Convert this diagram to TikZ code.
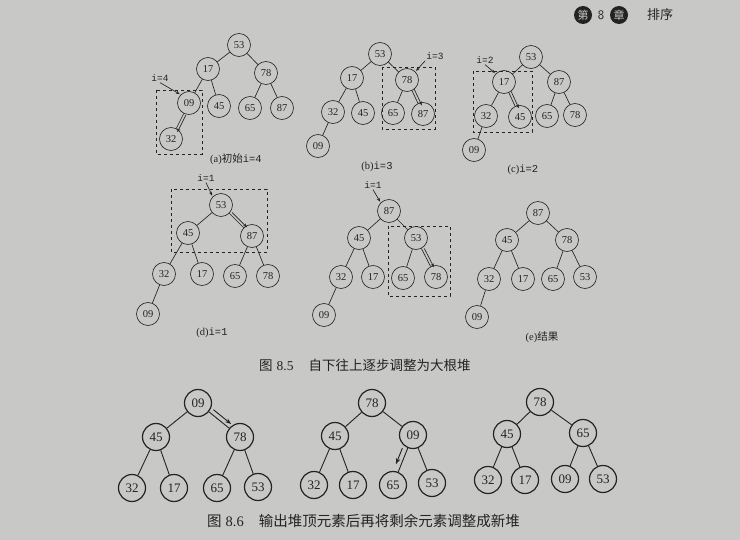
\documentclass[tikz,border=0pt]{standalone}
\usepackage{fontspec}
\setmainfont{Liberation Serif}
\newfontfamily\cjk{Noto Sans CJK SC}
\newfontfamily\mono{Liberation Mono}
\usetikzlibrary{arrows.meta,calc}
\definecolor{pagegray}{RGB}{200,200,198}
\definecolor{ink}{RGB}{35,35,35}
\tikzset{
  sn/.style={circle,draw=ink,line width=0.65pt,minimum size=23pt,inner sep=0pt,font=\fontsize{10.5}{11}\selectfont,text=ink},
  bn/.style={circle,draw=ink,line width=1.2pt,minimum size=27pt,inner sep=0pt,font=\fontsize{13}{14}\selectfont,text=ink},
  se/.style={draw=ink,line width=0.65pt},
  be/.style={draw=ink,line width=0.9pt},
  dbox/.style={draw=ink,dashed,line width=0.6pt},
  lab/.style={font=\mono\fontsize{9.5}{10}\selectfont,text=ink,inner sep=1pt},
  subcap/.style={font=\fontsize{10.5}{11}\selectfont,text=ink},
  tip/.style={-{Stealth[length=4pt,width=3pt]},draw=ink,line width=0.65pt},
  btip/.style={-{Stealth[length=6pt,width=4.5pt]},draw=ink,line width=0.9pt},
  fcap/.style={anchor=west,text=ink,inner sep=0pt},
  hcirc/.style={circle,fill=ink,text=pagegray,inner sep=0pt,minimum size=18pt,font=\cjk\fontsize{11}{11}\selectfont},
}
\newcommand{\dbl}[3]{\draw[tip] ($(#1)!0.3!(#2)!2.6pt!#3:(#2)$) -- ($(#1)!0.78!(#2)!2.6pt!#3:(#2)$);}
\begin{document}
\begin{tikzpicture}[x=1pt,y=-1pt]
\fill[pagegray] (0,0) rectangle (740,540);
\useasboundingbox (0,0) rectangle (740,540);

% header
\node[hcirc] (h1) at (583,15) {第};
\node[text=ink,font=\sffamily\fontsize{13}{13}\selectfont] (h2) at (601,15) {8};
\node[hcirc] (h3) at (619,15) {章};
\node[text=ink,font=\cjk\fontsize{13}{13}\selectfont] (h4) at (660,15) {排序};

% ---------- (a)
\node[sn] (a53) at (239,45) {53};
\node[sn] (a17) at (208,69) {17};
\node[sn] (a78) at (266,73) {78};
\node[sn] (a09) at (189,103) {09};
\node[sn] (a45) at (219,106) {45};
\node[sn] (a65) at (250,108) {65};
\node[sn] (a87) at (282,108) {87};
\node[sn] (a32) at (171,139) {32};
\draw[se] (a53)--(a17) (a53)--(a78) (a17)--(a09) (a17)--(a45) (a78)--(a65) (a78)--(a87) (a09)--(a32);
\draw[dbox] (156,90) rectangle (202,154);
\node[lab] (la) at (160,78) {i=4};
\draw[tip,shorten >=1pt] (la.south) -- (a09.north west);
\dbl{a09}{a32}{90}
\node[subcap] (ca) at (236,159) {(a)\cjk 初始\mono i=4};

% ---------- (b)
\node[sn] (b53) at (380,54) {53};
\node[sn] (b17) at (352,78) {17};
\node[sn] (b78) at (407,80) {78};
\node[sn] (b32) at (333,112) {32};
\node[sn] (b45) at (363,113) {45};
\node[sn] (b65) at (393,113) {65};
\node[sn] (b87) at (423,114) {87};
\node[sn] (b09) at (318,146) {09};
\draw[se] (b53)--(b17) (b53)--(b78) (b17)--(b32) (b17)--(b45) (b78)--(b65) (b78)--(b87) (b32)--(b09);
\draw[dbox] (382,67) rectangle (435,129);
\node[lab] (lb) at (435,56) {i=3};
\draw[tip,shorten >=1pt] (lb.south west) -- (b78.north east);
\dbl{b78}{b87}{90}
\node[subcap] (cb) at (377,167) {(b)\mono i=3};

% ---------- (c)
\node[sn] (c53) at (531,57) {53};
\node[sn] (c17) at (504,82) {17};
\node[sn] (c87) at (559,82) {87};
\node[sn] (c32) at (486,116) {32};
\node[sn] (c45) at (520,117) {45};
\node[sn] (c65) at (547,116) {65};
\node[sn] (c78) at (575,115) {78};
\node[sn] (c09) at (474,150) {09};
\draw[se] (c53)--(c17) (c53)--(c87) (c17)--(c32) (c17)--(c45) (c87)--(c65) (c87)--(c78) (c32)--(c09);
\draw[dbox] (473,71) rectangle (532,132);
\node[lab] (lc) at (485,60) {i=2};
\draw[tip,shorten >=1pt] (lc.south) -- (c17.north west);
\dbl{c17}{c45}{90}
\node[subcap] (cc) at (523,170) {(c)\mono i=2};

% ---------- (d)
\node[sn] (d53) at (221,205) {53};
\node[sn] (d45) at (188,233) {45};
\node[sn] (d87) at (252,236) {87};
\node[sn] (d32) at (164,274) {32};
\node[sn] (d17) at (202,274) {17};
\node[sn] (d65) at (235,276) {65};
\node[sn] (d78) at (268,276) {78};
\node[sn] (d09) at (148,314) {09};
\draw[se] (d53)--(d45) (d53)--(d87) (d45)--(d32) (d45)--(d17) (d87)--(d65) (d87)--(d78) (d32)--(d09);
\draw[dbox] (171,189) rectangle (267,252);
\node[lab] (ld) at (206,178) {i=1};
\draw[tip,shorten >=1pt] (ld.south) -- (d53.north west);
\dbl{d53}{d87}{90}
\node[subcap] (cd) at (212,333) {(d)\mono i=1};

% ---------- (d) second step
\node[sn] (f87) at (389,211) {87};
\node[sn] (f45) at (359,238) {45};
\node[sn] (f53) at (416,238) {53};
\node[sn] (f32) at (341,277) {32};
\node[sn] (f17) at (373,277) {17};
\node[sn] (f65) at (403,278) {65};
\node[sn] (f78) at (436,277) {78};
\node[sn] (f09) at (324,315) {09};
\draw[se] (f87)--(f45) (f87)--(f53) (f45)--(f32) (f45)--(f17) (f53)--(f65) (f53)--(f78) (f32)--(f09);
\draw[dbox] (388,226) rectangle (450,296);
\node[lab] (lf) at (373,185) {i=1};
\draw[tip,shorten >=1pt] (lf.south) -- (f87.north west);
\dbl{f53}{f78}{90}

% ---------- (e)
\node[sn] (e87) at (538,213) {87};
\node[sn] (e45) at (507,240) {45};
\node[sn] (e78) at (567,240) {78};
\node[sn] (e32) at (489,279) {32};
\node[sn] (e17) at (523,279) {17};
\node[sn] (e65) at (553,279) {65};
\node[sn] (e53) at (585,277) {53};
\node[sn] (e09) at (477,317) {09};
\draw[se] (e87)--(e45) (e87)--(e78) (e45)--(e32) (e45)--(e17) (e78)--(e65) (e78)--(e53) (e32)--(e09);
\node[subcap] (ce) at (542,337) {(e)\cjk 结果};

% caption 8.5
\node[fcap] (cap85) at (259,365) {\cjk\fontsize{13.5}{14}\selectfont 图\hspace{4pt}{\rmfamily 8.5}\hspace{15pt}自下往上逐步调整为大根堆};

% ---------- Fig 8.6 tree 1
\node[bn] (p09) at (198,403) {09};
\node[bn] (p45) at (156,437) {45};
\node[bn] (p78) at (240,437) {78};
\node[bn] (p32) at (132,488) {32};
\node[bn] (p17) at (174,488) {17};
\node[bn] (p65) at (217,488) {65};
\node[bn] (p53) at (258,487) {53};
\draw[be] (p09)--(p45) (p09)--(p78) (p45)--(p32) (p45)--(p17) (p78)--(p65) (p78)--(p53);
\draw[btip] ($(p09)!0.3!(p78)!4.5pt!90:(p78)$) -- ($(p09)!0.72!(p78)!4.5pt!90:(p78)$);

% tree 2
\node[bn] (q78) at (372,403) {78};
\node[bn] (q45) at (335,436) {45};
\node[bn] (q09) at (413,435) {09};
\node[bn] (q32) at (314,485) {32};
\node[bn] (q17) at (353,485) {17};
\node[bn] (q65) at (393,485) {65};
\node[bn] (q53) at (432,483) {53};
\draw[be] (q78)--(q45) (q78)--(q09) (q45)--(q32) (q45)--(q17) (q09)--(q65) (q09)--(q53);
\draw[btip] ($(q09)!0.3!(q65)!5pt!-90:(q65)$) -- ($(q09)!0.62!(q65)!5pt!-90:(q65)$);

% tree 3
\node[bn] (r78) at (540,402) {78};
\node[bn] (r45) at (507,434) {45};
\node[bn] (r65) at (583,433) {65};
\node[bn] (r32) at (488,480) {32};
\node[bn] (r17) at (525,480) {17};
\node[bn] (r09) at (565,479) {09};
\node[bn] (r53) at (603,479) {53};
\draw[be] (r78)--(r45) (r78)--(r65) (r45)--(r32) (r45)--(r17) (r65)--(r09) (r65)--(r53);

% caption 8.6
\node[fcap] (cap86) at (207,521) {\cjk\fontsize{14.5}{15}\selectfont 图\hspace{4pt}{\rmfamily 8.6}\hspace{15pt}输出堆顶元素后再将剩余元素调整成新堆};
\end{tikzpicture}
\end{document}
